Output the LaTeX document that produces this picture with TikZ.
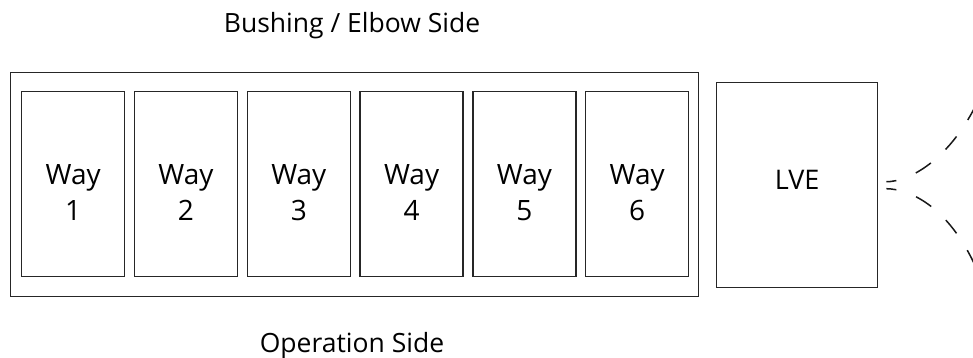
\documentclass[tikz,border=0pt]{standalone}
\usepackage{fontspec}
\setmainfont{Open Sans}
\begin{document}
\begin{tikzpicture}[x=1pt,y=-1pt,
  boxline/.style={draw=black!85,line width=1.4pt},
  waybox/.style={boxline,rectangle,minimum width=103pt,minimum height=185pt,anchor=north west,inner sep=0pt},
  waytext/.style={align=center,font=\fontsize{28}{36}\selectfont,inner sep=0pt},
  sidetext/.style={font=\fontsize{26.5}{30}\selectfont,anchor=base,inner sep=0pt},
  dashcurve/.style={draw=black!90,line width=1.5pt,dash pattern=on 10pt off 21pt on 18pt off 20pt on 17pt off 20pt on 17pt off 20pt}
]
\useasboundingbox (0,0) rectangle (973,358);
\clip (0,0) rectangle (973,358);
\node[boxline,rectangle,anchor=north west,minimum width=688pt,minimum height=224pt,inner sep=0pt] (outer) at (10,72) {};
\foreach \i in {1,...,6}{
  \node[waybox] (way\i) at ({21+112.8*(\i-1)},91) {};
  \node[waytext] (wt\i) at ([yshift=-8pt]way\i.center) {Way\\\i};
}
\node[boxline,rectangle,anchor=north west,minimum width=161pt,minimum height=205pt,inner sep=0pt] (lve) at (716,82) {};
\node[font=\fontsize{27}{34}\selectfont,inner sep=0pt] (lvet) at ([yshift=5pt]lve.center) {LVE};
\node[sidetext] (top) at (352,33) {Bushing / Elbow Side};
\node[sidetext] (bottom) at (352,352) {Operation Side};
\coordinate (u0) at ([shift={(8,-3.5)}]lve.east);
\coordinate (l0) at ([shift={(8,3.5)}]lve.east);
\coordinate (u1) at (985,85);
\coordinate (l1) at (985,290);
\draw[dashcurve] (u0) .. controls (908,182) and (955,160) .. (u1);
\draw[dashcurve] (l0) .. controls (908,189) and (955,205) .. (l1);
\end{tikzpicture}
\end{document}
